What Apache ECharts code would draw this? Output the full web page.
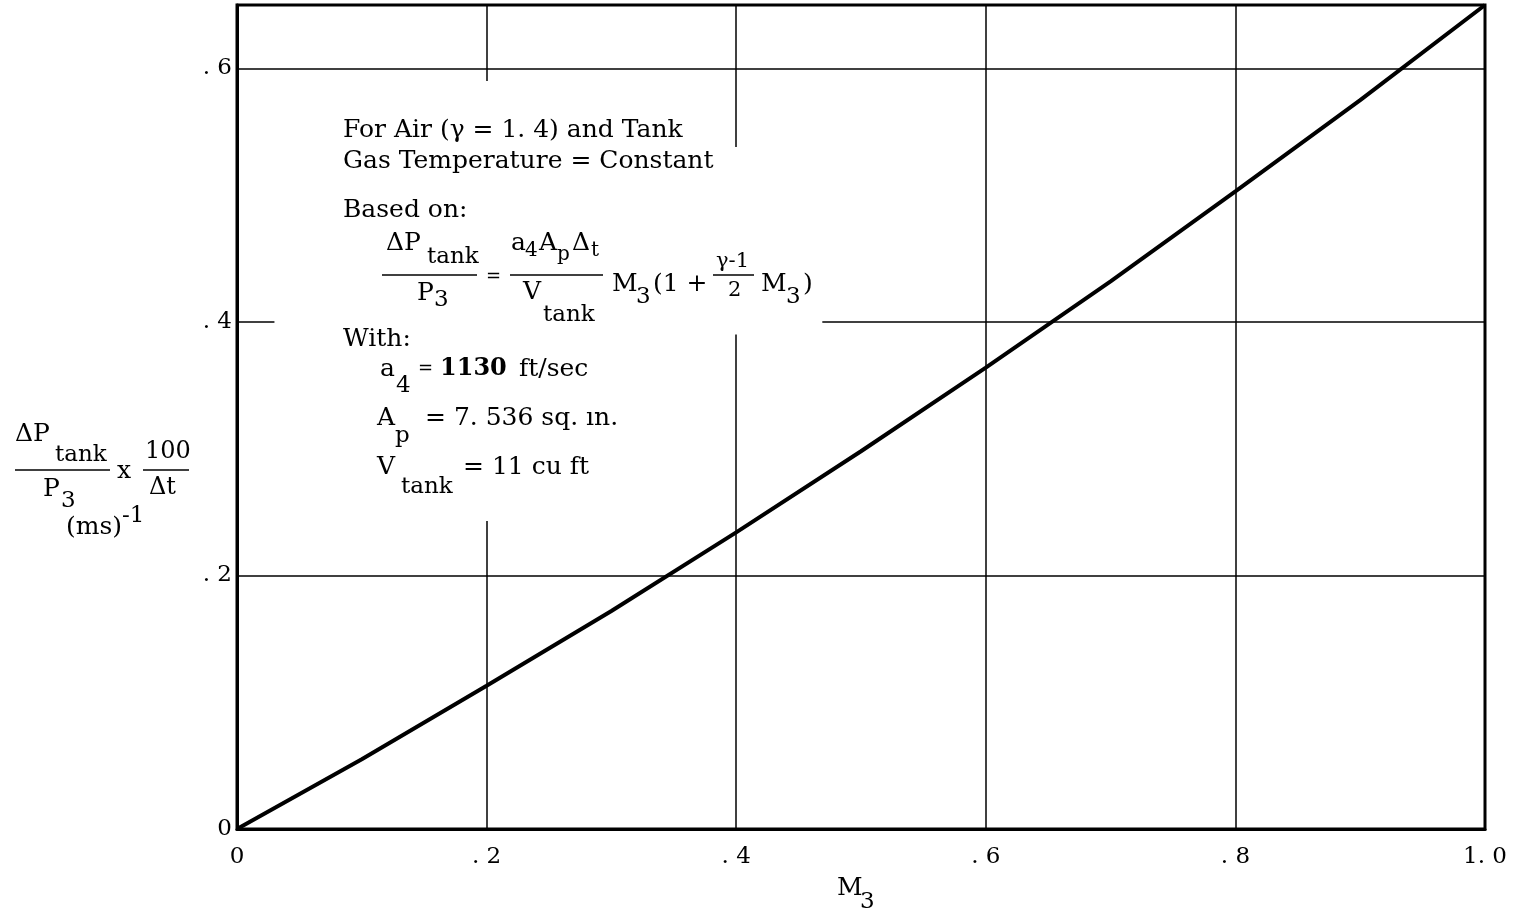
<!DOCTYPE html>
<html>
<head>
<meta charset="utf-8">
<script src="https://cdn.jsdelivr.net/npm/echarts@6/dist/echarts.min.js"></script>
<style>
  html, body { margin: 0; padding: 0; background: #fff; }
  #chart { width: 1514px; height: 914px; }
</style>
</head>
<body>
<div id="chart"></div>
<script>
// Mach number M3 and the resulting tank pressure-rise rate
const mach = [0, 0.1, 0.2, 0.3, 0.4, 0.5, 0.6, 0.7, 0.8, 0.9, 1.0];
const rate = [0, 0.055, 0.113, 0.172, 0.234, 0.298, 0.364, 0.432, 0.503, 0.575, 0.65];

// Tick labels in the typeset style of the report
const xTickValues = [0, 0.2, 0.4, 0.6, 0.8, 1.0];
const xTickLabels = ['0', '. 2', '. 4', '. 6', '. 8', '1. 0'];
const yTickValues = [0, 0.2, 0.4, 0.6];
const yTickLabels = ['0', '. 2', '. 4', '. 6'];

// Blank areas behind the note text (data units: [x0, y0, x1, y1])
const noteAreas = [
  [0.03, 0.39, 0.469, 0.538],
  [0.15, 0.243, 0.25, 0.59]
];

const FONT = '"DejaVu Serif", "Liberation Serif", serif';

function label(values, labels) {
  return function (v) {
    for (let i = 0; i < values.length; i++) {
      if (Math.abs(values[i] - v) < 1e-6) return labels[i];
    }
    return '';
  };
}

// Text piece: left edge x, vertical centre y
function t(x, y, text, size, bold) {
  return {
    type: 'text', x: x, y: y, z: 100,
    style: {
      text: text, fill: '#000',
      font: (bold ? 'bold ' : '') + size + 'px ' + FONT,
      textAlign: 'left', textVerticalAlign: 'middle'
    }
  };
}
// Fraction bar
function bar(x1, x2, y) {
  return {
    type: 'line', z: 100,
    shape: { x1: x1, y1: y, x2: x2, y2: y },
    style: { stroke: '#000', lineWidth: 1.6 }
  };
}

const S = 25, SUB = 23, SM = 21, TINY = 20;

const notes = [
  t(343, 130, 'For Air (γ = 1. 4) and Tank', S),
  t(343, 161, 'Gas Temperature = Constant', S),
  t(343, 210, 'Based on:', S),

  // ΔP_tank / P3
  t(386, 243, 'ΔP', S),
  t(427, 257, 'tank', SUB),
  bar(382, 477, 275),
  t(417, 293, 'P', S),
  t(434, 300, '3', SUB),
  t(486, 277, '=', 18),

  // a4 Ap Δt / V_tank
  t(511, 243, 'a', S),
  t(525, 251, '4', TINY),
  t(539, 243, 'A', S),
  t(557, 255, 'p', TINY),
  t(572, 243, 'Δ', S),
  t(591, 251, 't', TINY),
  bar(510, 603, 275),
  t(523, 292, 'V', S),
  t(543, 315, 'tank', SUB),

  // M3 (1 + (γ-1)/2 M3)
  t(612, 284, 'M', S),
  t(636, 297, '3', SUB),
  t(653, 284, '(1 +', S),
  t(716, 262, 'γ-1', SM),
  bar(713, 754, 275),
  t(728, 291, '2', SM),
  t(761, 284, 'M', S),
  t(786, 297, '3', SUB),
  t(803, 284, ')', S),

  // Constants
  t(343, 339, 'With:', S),
  t(380, 369, 'a', S),
  t(396, 386, '4', SUB),
  t(418, 369, '=', 18),
  t(440, 369, '1130', 24, true),
  t(519, 369, 'ft/sec', S),
  t(377, 418, 'A', S),
  t(395, 436, 'p', SUB),
  t(425, 418, '= 7. 536 sq. ın.', S),
  t(377, 467, 'V', S),
  t(401, 487, 'tank', SUB),
  t(463, 467, '= 11 cu ft', S),

  // Y axis title
  t(15, 434, 'ΔP', S),
  t(55, 455, 'tank', SUB),
  bar(15, 110, 470),
  t(43, 489, 'P', S),
  t(61, 501, '3', SUB),
  t(117, 471, 'x', S),
  t(145, 452, '100', 24),
  bar(143, 189, 470),
  t(149, 488, 'Δt', 24),
  t(66, 527, '(ms)', S),
  t(122, 516, '-1', SUB),

  // X axis title
  t(837, 888, 'M', S),
  t(860, 902, '3', SUB)
];

const chart = echarts.init(document.getElementById('chart'), null, { renderer: 'canvas' });

chart.setOption({
  backgroundColor: '#fff',
  animation: false,
  grid: {
    left: 237, right: 29, top: 5, bottom: 85,
    show: true, borderColor: '#000', borderWidth: 3, backgroundColor: '#fff'
  },
  xAxis: {
    type: 'value', min: 0, max: 1.0, interval: 0.2,
    axisLine: { show: true, lineStyle: { color: '#000', width: 3 } },
    axisTick: { show: false },
    splitLine: { show: true, lineStyle: { color: '#000', width: 1.5 } },
    axisLabel: {
      color: '#000', fontFamily: FONT, fontSize: 23, margin: 17,
      formatter: label(xTickValues, xTickLabels)
    }
  },
  yAxis: {
    type: 'value', min: 0, max: 0.65, interval: 0.2,
    axisLine: { show: true, lineStyle: { color: '#000', width: 3 } },
    axisTick: { show: false },
    splitLine: { show: true, lineStyle: { color: '#000', width: 1.5 } },
    axisLabel: {
      color: '#000', fontFamily: FONT, fontSize: 23, margin: 5,
      showMaxLabel: false, verticalAlign: 'middle',
      formatter: label(yTickValues, yTickLabels)
    }
  },
  series: [{
    type: 'line',
    data: mach.map((m, i) => [m, rate[i]]),
    showSymbol: false,
    smooth: false,
    lineStyle: { color: '#000', width: 4 },
    markArea: {
      silent: true,
      itemStyle: { color: '#fff', borderWidth: 0 },
      data: noteAreas.map(a => [{ coord: [a[0], a[1]] }, { coord: [a[2], a[3]] }])
    }
  }],
  graphic: notes
});
</script>
</body>
</html>
